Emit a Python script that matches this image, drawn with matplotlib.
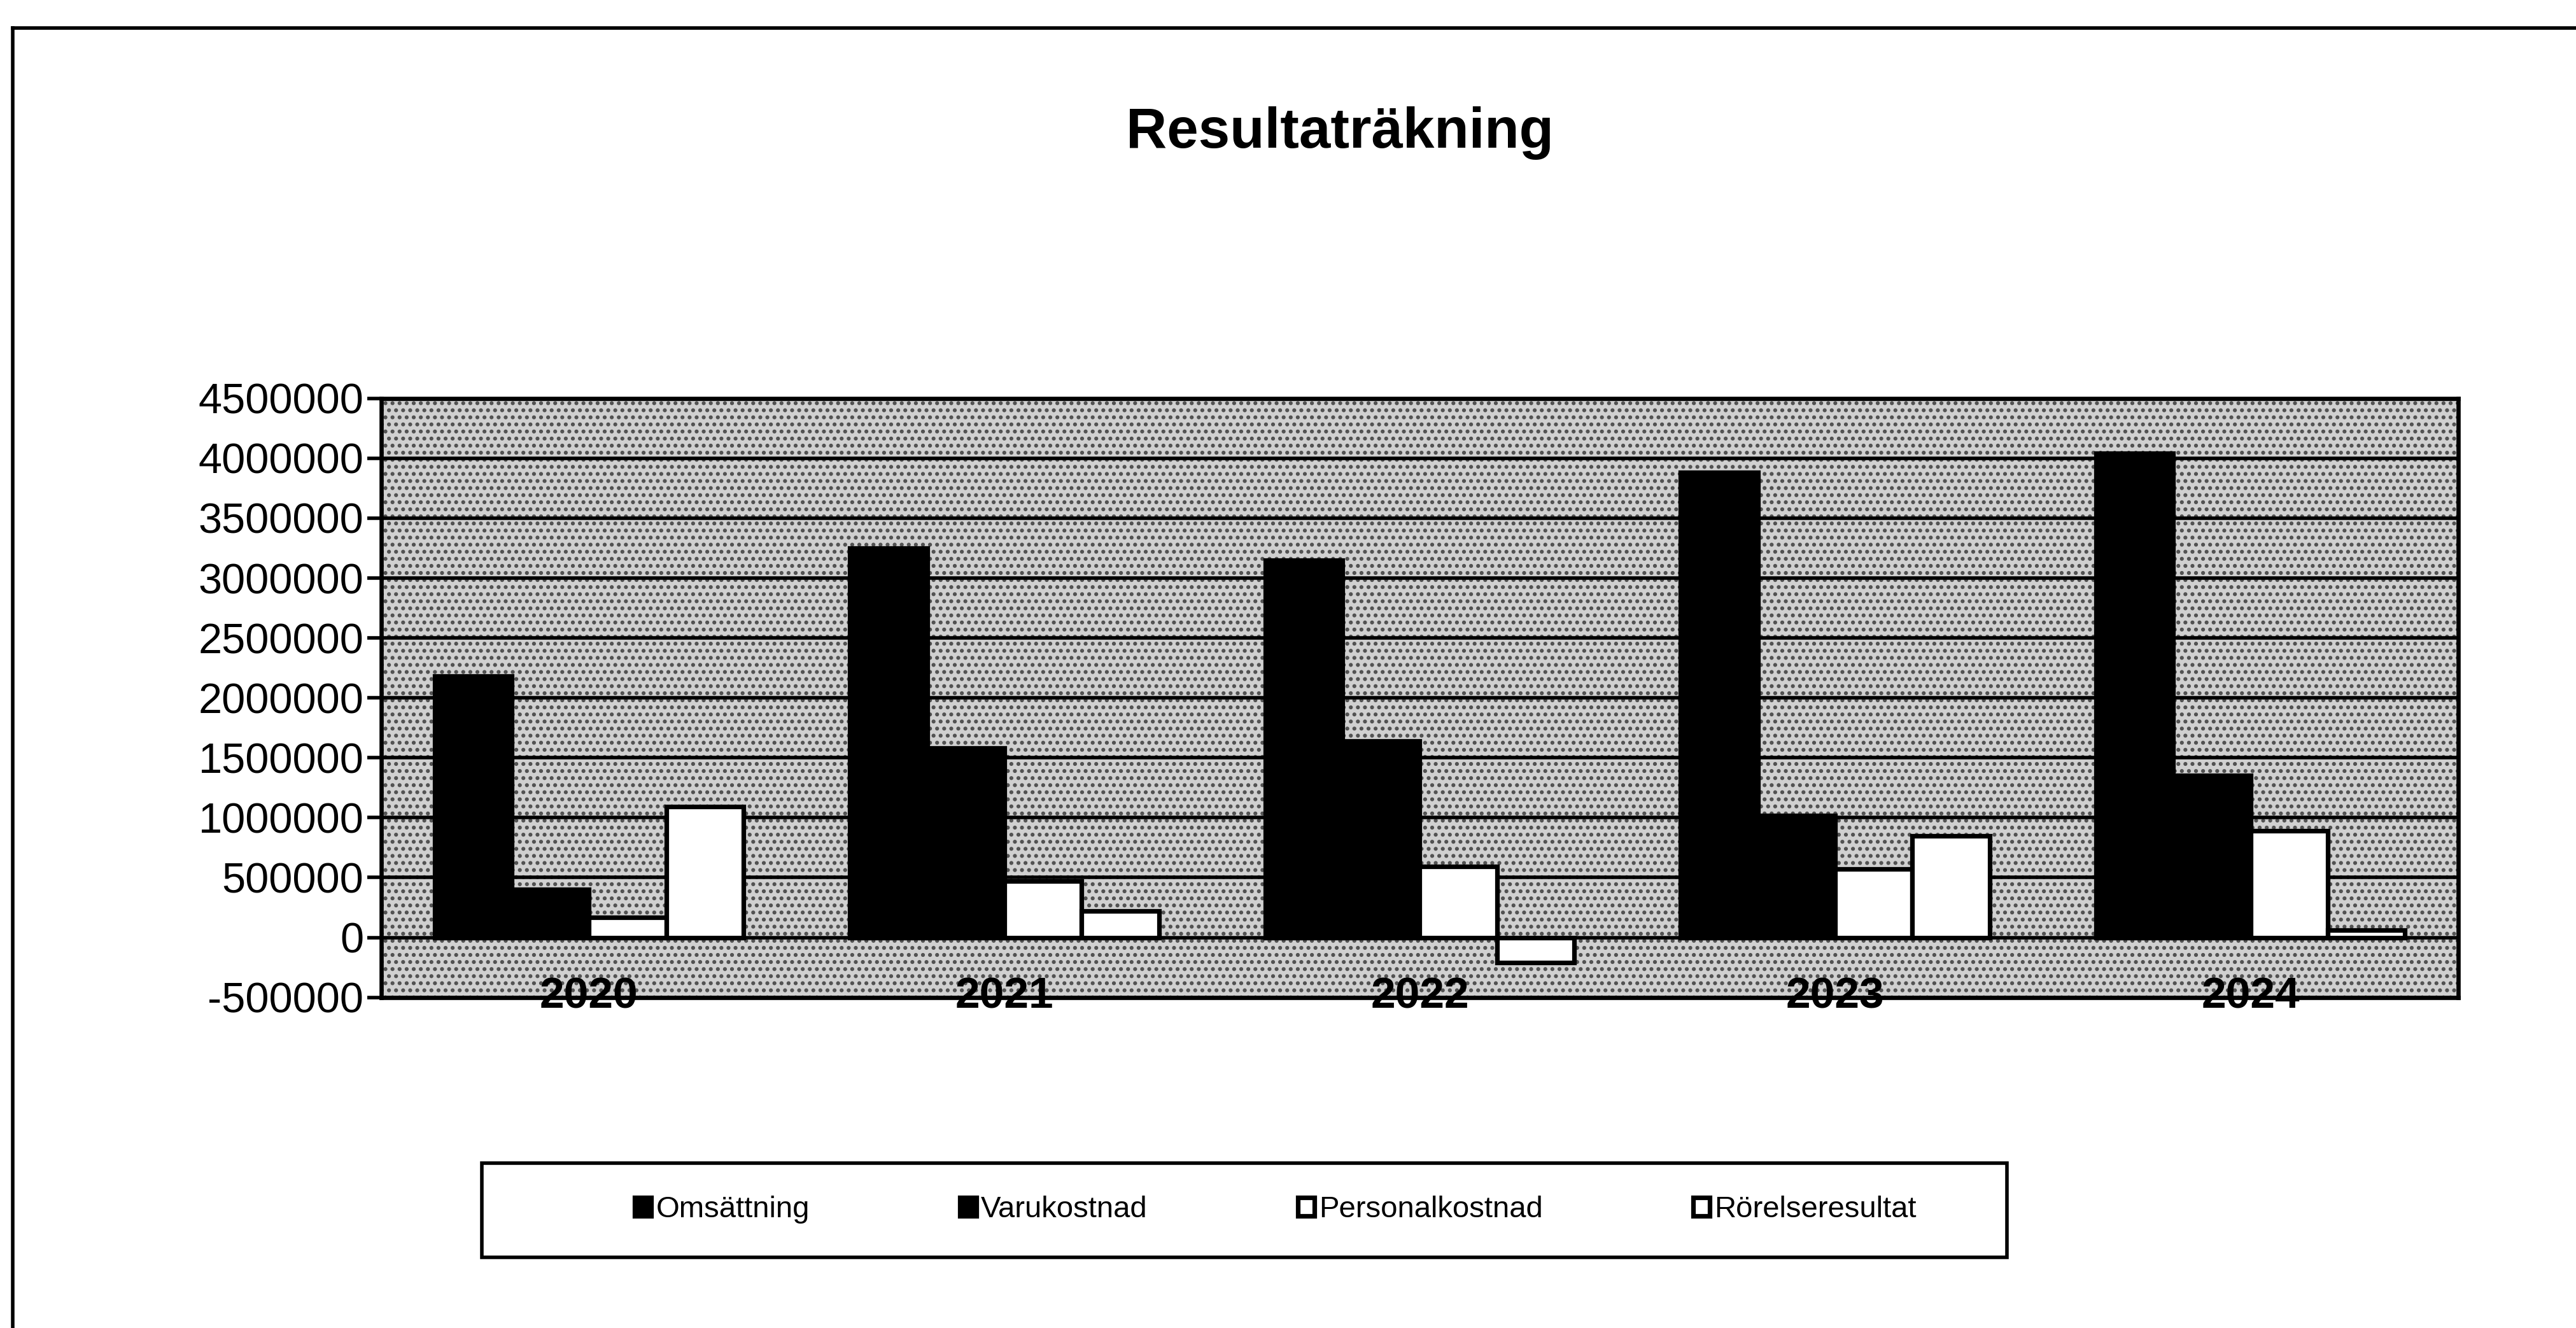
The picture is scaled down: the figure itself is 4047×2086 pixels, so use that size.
import matplotlib
matplotlib.use("Agg")
import matplotlib.pyplot as plt
from matplotlib.patches import Rectangle
from matplotlib.lines import Line2D
import numpy as np

# data
years = ["2020", "2021", "2022", "2023", "2024"]
series_names = ["Omsättning", "Varukostnad", "Personalkostnad", "Rörelseresultat"]
omsattning = [2180000, 3250000, 3150000, 3880000, 4040000]
varukostnad = [400000, 1580000, 1640000, 1020000, 1350000]
personalkostnad = [170000, 470000, 590000, 570000, 890000]
rorelseresultat = [1090000, 220000, -210000, 850000, 60000]
yticks = list(range(-500000, 4500001, 500000))

plt.rcParams['font.family'] = ['Liberation Sans', 'DejaVu Sans']
plt.rcParams['hatch.linewidth'] = 1.4

fig = plt.figure(figsize=(20.24, 10.43), dpi=200)
ax = fig.add_axes([0.148, 0.249, 0.806, 0.451])

# speckled plot area
ax.set_facecolor('#d0d0d0')
ax.add_patch(Rectangle((0, 0), 1, 1, transform=ax.transAxes, facecolor='none',
                       edgecolor='#505050', hatch='...', lw=0, zorder=0))

x = np.arange(len(years))
w = 0.186
all_series = [omsattning, varukostnad, personalkostnad, rorelseresultat]
fills = ['black', 'black', 'white', 'white']
bars = []
for i, (vals, fc) in enumerate(zip(all_series, fills)):
    b = ax.bar(x + (i - 1.5) * w, vals, w, color=fc, edgecolor='black',
               linewidth=2.6, label=series_names[i], zorder=2)
    bars.append(b)

ax.set_xlim(-0.5, 4.5)
ax.set_ylim(-500000, 4500000)
ax.set_yticks(yticks)
ax.set_yticklabels([str(t) for t in yticks], fontsize=24)
ax.yaxis.grid(True, color='black', linewidth=2.0)
ax.set_axisbelow(True)
ax.tick_params(axis='y', length=8, width=2, pad=2)

ax.set_xticks(x)
ax.set_xticklabels(years, fontsize=25, fontweight='bold')
ax.tick_params(axis='x', length=0, pad=-12)

for s in ax.spines.values():
    s.set_linewidth(2.4)
    s.set_color('black')

fig.text(0.52, 0.9, "Resultaträkning", fontsize=32, fontweight='bold',
         ha='center', va='center')

# legend box
fig.add_artist(Rectangle((0.187, 0.053), 0.592, 0.071, transform=fig.transFigure,
                         facecolor='white', edgecolor='black', lw=2.0))
fig.legend(handles=bars, labels=series_names, loc='center',
           bbox_to_anchor=(0.495, 0.089), ncol=4, frameon=False, fontsize=17,
           handlelength=0.55, handleheight=0.55, handletextpad=0.15,
           columnspacing=5.0)

# outer frame (only top and left edges visible in the scan)
fig.add_artist(Line2D([0.005, 1.0], [0.979, 0.979], transform=fig.transFigure,
                      color='black', lw=2.0))
fig.add_artist(Line2D([0.005, 0.005], [0.0, 0.979], transform=fig.transFigure,
                      color='black', lw=2.0))

fig.savefig("out.png", dpi=200, facecolor='white')
